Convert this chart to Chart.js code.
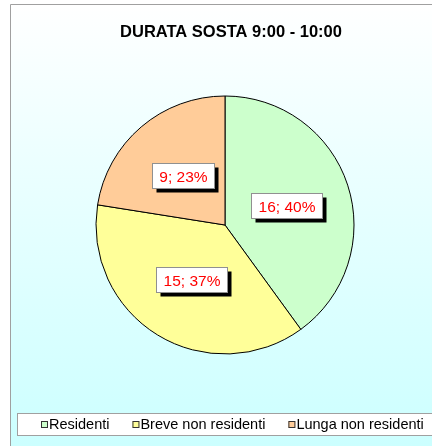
<!DOCTYPE html>
<html><head><meta charset="utf-8">
<script src="https://cdn.jsdelivr.net/npm/chart.js@4"></script>
<style>
html,body{margin:0;padding:0;background:#ffffff;}
#wrap{width:432px;height:446px;position:relative;overflow:hidden;}
#c{position:absolute;left:0;top:0;}
</style>
</head><body><div id="wrap"><canvas id="c" width="432" height="446"></canvas></div>
<script>
const chartTitle = 'DURATA SOSTA 9:00 - 10:00';
const categories = ['Residenti', 'Breve non residenti', 'Lunga non residenti'];
const values = [16, 15, 9];
const percentLabels = [40, 37, 23];
const sliceColors = ['#CCFFCC', '#FFFF99', '#FFCC99'];

const FONT = 'Arial, "Liberation Sans", sans-serif';

const decorPlugin = {
  id: 'decor',
  afterDatasetsDraw(chart) {
    const ctx = chart.ctx;
    const meta = chart.getDatasetMeta(0);
    ctx.save();
    ctx.font = '15.5px ' + FONT;
    meta.data.forEach((arc, i) => {
      const p = arc.getCenterPoint();
      const txt = values[i] + '; ' + percentLabels[i] + '%';
      const tw = ctx.measureText(txt).width;
      const w = Math.round(tw + 14), h = 25;
      const x0 = Math.round(p.x - w / 2) + 0.5, y0 = Math.round(p.y - h / 2) + 0.5;
      ctx.fillStyle = '#000000';
      ctx.fillRect(x0 + 4, y0 + 4, w, h);
      ctx.fillStyle = '#ffffff';
      ctx.fillRect(x0, y0, w, h);
      ctx.strokeStyle = '#909090'; ctx.lineWidth = 1;
      ctx.strokeRect(x0, y0, w, h);
      ctx.fillStyle = '#ff0000';
      ctx.textAlign = 'center'; ctx.textBaseline = 'alphabetic';
      ctx.fillText(txt, x0 + w / 2, y0 + h / 2 + 5.5);
    });
    ctx.restore();
  },
  afterDraw(chart) {
    const ctx = chart.ctx, W = chart.width, H = chart.height;
    ctx.save();
    ctx.font = 'bold 16.5px ' + FONT;
    ctx.fillStyle = '#000000';
    ctx.textAlign = 'center'; ctx.textBaseline = 'alphabetic';
    ctx.fillText(chartTitle, 231, 37);
    ctx.fillStyle = '#ffffff';
    ctx.fillRect(17.5, 413.5, W, 22);
    ctx.strokeStyle = '#a0a0a0'; ctx.lineWidth = 1;
    ctx.strokeRect(17.5, 413.5, W, 22);
    ctx.font = '14.5px ' + FONT;
    const sq = 7, gapBoxText = 1, gapItems = 23;
    const widths = categories.map(c => ctx.measureText(c).width);
    let total = 0;
    widths.forEach((tw, i) => { total += sq + gapBoxText + tw + (i < widths.length - 1 ? gapItems : 0); });
    let x = Math.round(232 - total / 2);
    ctx.textAlign = 'left';
    categories.forEach((c, i) => {
      ctx.fillStyle = sliceColors[i];
      ctx.fillRect(x, 421, sq, sq);
      ctx.strokeStyle = '#333333';
      ctx.strokeRect(x + 0.5, 421.5, sq - 1, sq - 1);
      ctx.fillStyle = '#000000';
      ctx.fillText(c, x + sq + gapBoxText, 428.5);
      x += sq + gapBoxText + widths[i] + gapItems;
    });
    ctx.globalCompositeOperation = 'destination-over';
    ctx.strokeStyle = '#a0a0a0'; ctx.lineWidth = 1;
    ctx.beginPath(); ctx.moveTo(10.5, H); ctx.lineTo(10.5, 4.5); ctx.lineTo(W, 4.5); ctx.stroke();
    const g = ctx.createLinearGradient(0, 4, 0, H);
    g.addColorStop(0, '#ffffff'); g.addColorStop(0.35, '#ecffff'); g.addColorStop(1, '#ccffff');
    ctx.fillStyle = g; ctx.fillRect(10, 4, W - 10, H - 4);
    ctx.fillStyle = '#ffffff'; ctx.fillRect(0, 0, W, H);
    ctx.restore();
  }
};

new Chart(document.getElementById('c'), {
  type: 'pie',
  data: {
    labels: categories,
    datasets: [{
      data: values,
      backgroundColor: sliceColors,
      borderColor: '#000000',
      borderWidth: 1,
      radius: 129,
      clip: false
    }]
  },
  options: {
    responsive: false,
    animation: false,
    layout: { padding: { left: 18, right: 0, top: 60, bottom: 56 } },
    plugins: {
      legend: { display: false },
      title: { display: false },
      tooltip: { enabled: false }
    }
  },
  plugins: [decorPlugin]
});
</script>
</body></html>
